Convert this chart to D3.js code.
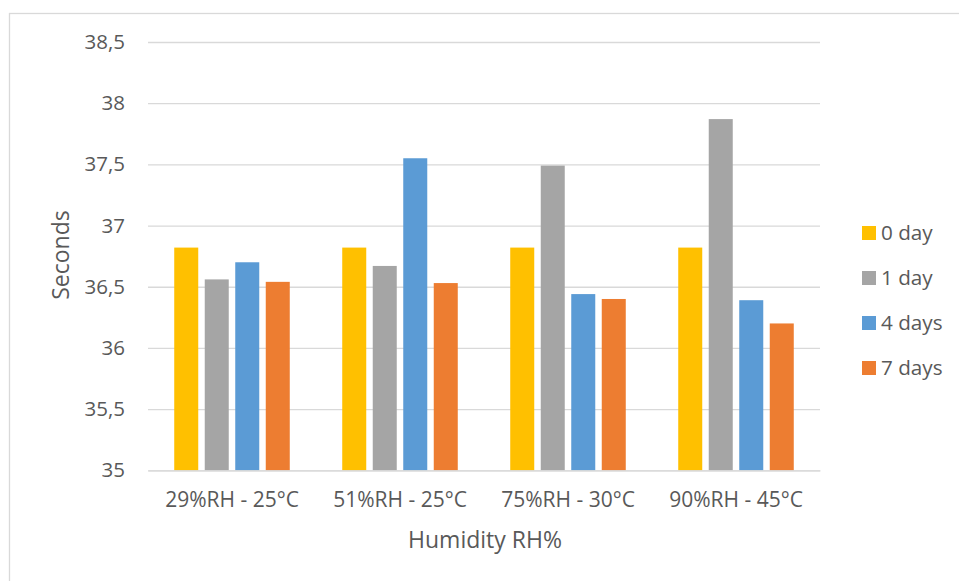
<!DOCTYPE html>
<html>
<head>
<meta charset="utf-8">
<script src="https://cdn.jsdelivr.net/npm/d3@7"></script>
<style>
  html, body { margin: 0; padding: 0; background: #fff; }
  svg { display: block; font-family: "Open Sans", sans-serif; }
</style>
</head>
<body>
<svg id="chart" width="959" height="581"></svg>
<script>
// Test conditions (x axis groups)
const categories = ["29%RH - 25°C", "51%RH - 25°C", "75%RH - 30°C", "90%RH - 45°C"];
// Storage periods (legend series)
const seriesNames = ["0 day", "1 day", "4 days", "7 days"];
const seriesColors = ["#FFC000", "#A5A5A5", "#5B9BD5", "#ED7D31"];
// Measured time in seconds, one array per storage period
const day0 = [36.82, 36.82, 36.82, 36.82];
const day1 = [36.56, 36.67, 37.49, 37.87];
const day4 = [36.70, 37.55, 36.44, 36.39];
const day7 = [36.54, 36.53, 36.40, 36.20];
const yTicks = [35, 35.5, 36, 36.5, 37, 37.5, 38, 38.5];

const seriesValues = [day0, day1, day4, day7];
const rows = categories.map((c, i) => ({
  category: c,
  values: seriesNames.map((s, j) => ({ series: s, value: seriesValues[j][i], color: seriesColors[j] }))
}));

const svg = d3.select("#chart");
const textColor = "#595959";
const gridColor = "#d9d9d9";

// outer chart frame
svg.append("rect")
  .attr("x", 9.5).attr("y", 13.5)
  .attr("width", 1000).attr("height", 1000)
  .attr("fill", "none").attr("stroke", gridColor).attr("stroke-width", 1.3);

const plot = { left: 148, right: 820, top: 42, bottom: 470.3 };

const y = d3.scaleLinear().domain([35, 38.5]).range([plot.bottom, plot.top]);
const x0 = d3.scaleBand().domain(categories).range([plot.left, plot.right]).padding(0);
const x1 = d3.scaleBand().domain(seriesNames).range([0, x0.bandwidth()])
  .paddingInner(0.213).paddingOuter(0.86);

// horizontal gridlines
const yAxis = d3.axisLeft(y).tickValues(yTicks)
  .tickSize(-(plot.right - plot.left)).tickPadding(23)
  .tickFormat(d => d3.format("")(d).replace(".", ","));
const gy = svg.append("g").attr("transform", `translate(${plot.left},0)`).call(yAxis);
gy.select(".domain").remove();
gy.selectAll(".tick line").attr("stroke", gridColor).attr("stroke-width", 1.3);
gy.selectAll(".tick text").attr("fill", textColor).attr("font-size", 20.5).attr("font-family", "Open Sans");

// bars
const groups = svg.append("g").selectAll("g").data(rows).join("g")
  .attr("transform", d => `translate(${x0(d.category)},0)`);
groups.selectAll("rect").data(d => d.values).join("rect")
  .attr("x", d => x1(d.series))
  .attr("width", x1.bandwidth())
  .attr("y", d => y(d.value))
  .attr("height", d => y(35) - y(d.value))
  .attr("fill", d => d.color);

// category axis
const xAxis = d3.axisBottom(x0).tickSize(0).tickPadding(22);
const gx = svg.append("g").attr("transform", `translate(0,${plot.bottom})`).call(xAxis);
gx.select(".domain").attr("stroke", gridColor).attr("stroke-width", 1.3);
gx.selectAll(".tick text").attr("fill", textColor).attr("font-size", 21).attr("font-family", "Open Sans");

// axis titles
svg.append("text")
  .attr("x", (plot.left + plot.right) / 2 + 1).attr("y", 548)
  .attr("text-anchor", "middle").attr("fill", textColor).attr("font-size", 23)
  .text("Humidity RH%");
svg.append("text")
  .attr("transform", `translate(69,255) rotate(-90)`)
  .attr("text-anchor", "middle").attr("fill", textColor).attr("font-size", 23)
  .text("Seconds");

// legend
const legend = svg.append("g").selectAll("g").data(seriesNames).join("g")
  .attr("transform", (d, i) => `translate(862,${226 + i * 45})`);
legend.append("rect").attr("width", 14).attr("height", 14)
  .attr("fill", (d, i) => seriesColors[i]);
legend.append("text").attr("x", 19).attr("y", 7).attr("dy", "0.35em")
  .attr("fill", textColor).attr("font-size", 20.7).text(d => d);
</script>
</body>
</html>
